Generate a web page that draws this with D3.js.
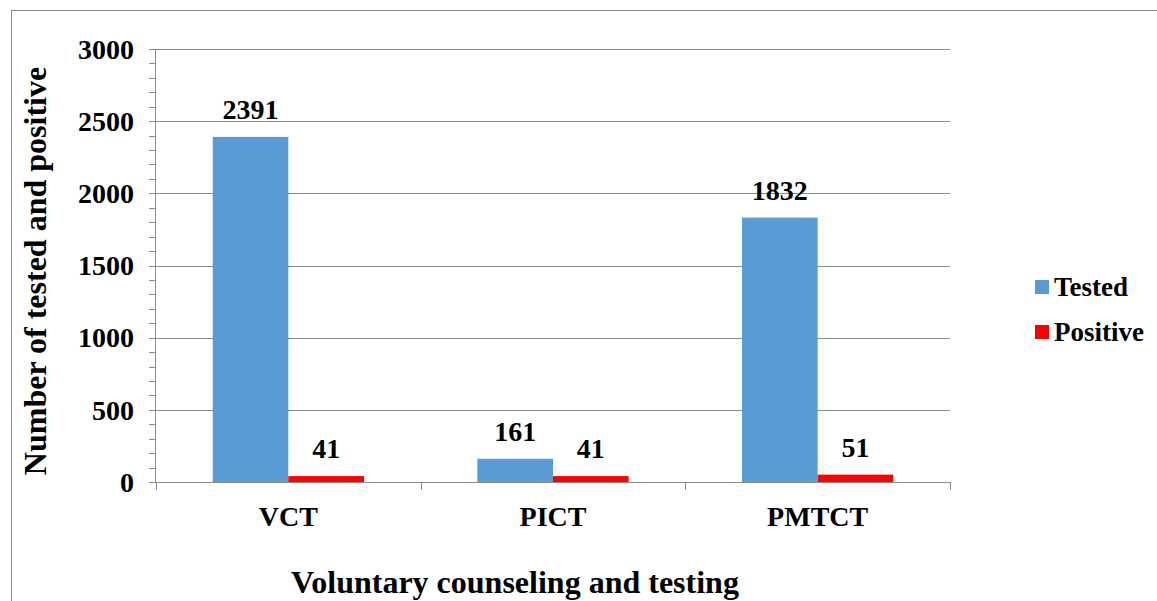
<!DOCTYPE html>
<html>
<head>
<meta charset="utf-8">
<script src="https://cdn.jsdelivr.net/npm/d3@7"></script>
<style>
  body { margin: 0; background: #fff; }
</style>
</head>
<body>
<svg id="drawing_region"></svg>
<script>
const categories = ['VCT', 'PICT', 'PMTCT'];
const series = ['Tested', 'Positive'];
const tested = [2391, 161, 1832];
const positive = [41, 41, 51];
const yticks = [0, 500, 1000, 1500, 2000, 2500, 3000];
const colors = ['#5b9bd5', '#ff0000'];

const width = 1157, height = 601;
const margin = {top: 49, right: 207, bottom: 119, left: 156};
const inner_width = width - margin.left - margin.right;
const inner_height = height - margin.top - margin.bottom;
const serif = '"Liberation Serif", "Times New Roman", Times, serif';

const svg = d3.select('#drawing_region')
    .attr('width', width)
    .attr('height', height)
    .attr('font-family', serif)
    .attr('font-weight', 'bold');

// outer frame
svg.append('rect')
    .attr('x', 11.5).attr('y', 10.5)
    .attr('width', width).attr('height', height)
    .attr('fill', 'none')
    .attr('stroke', '#8c8c8c')
    .attr('stroke-width', 1);

const chart = svg.append('g')
    .attr('transform', `translate(${margin.left}, ${margin.top})`);

const xscale = d3.scaleBand()
    .domain(categories)
    .range([0, inner_width]);

const inner = d3.scaleBand()
    .domain(series)
    .range([0, xscale.bandwidth()])
    .paddingOuter(0.75)
    .paddingInner(0);

const yscale = d3.scaleLinear()
    .domain([0, 3000])
    .range([inner_height, 0]);

// gridlines
chart.append('g')
    .selectAll('line')
    .data(yticks.slice(1))
    .join('line')
    .attr('x1', 0).attr('x2', inner_width)
    .attr('y1', d => Math.round(yscale(d)) + 0.5)
    .attr('y2', d => Math.round(yscale(d)) + 0.5)
    .attr('stroke', '#8c8c8c');

// minor ticks on y
chart.append('g')
    .selectAll('line')
    .data(d3.range(0, 3001, 100))
    .join('line')
    .attr('x1', -7).attr('x2', 0)
    .attr('y1', d => Math.round(yscale(d)) + 0.5)
    .attr('y2', d => Math.round(yscale(d)) + 0.5)
    .attr('stroke', '#8c8c8c');

// y axis line
chart.append('line')
    .attr('x1', -0.5).attr('x2', -0.5)
    .attr('y1', 0).attr('y2', inner_height)
    .attr('stroke', '#8c8c8c');

// y tick labels
chart.append('g')
    .selectAll('text')
    .data(yticks)
    .join('text')
    .attr('x', -22)
    .attr('y', d => yscale(d))
    .attr('dy', '0.35em')
    .attr('text-anchor', 'end')
    .style('font-size', '28px')
    .text(d => d);

// bars
const groups = chart.selectAll('.cat')
    .data(categories)
    .join('g')
    .attr('class', 'cat')
    .attr('transform', d => `translate(${xscale(d)}, 0)`);

const values = [tested, positive];
groups.selectAll('rect')
    .data((d, i) => series.map((s, j) => ({s, j, v: values[j][i]})))
    .join('rect')
    .attr('x', d => inner(d.s))
    .attr('y', d => yscale(d.v))
    .attr('width', inner.bandwidth())
    .attr('height', d => inner_height - yscale(d.v))
    .attr('fill', d => colors[d.j]);

groups.selectAll('text.val')
    .data((d, i) => series.map((s, j) => ({s, j, v: values[j][i]})))
    .join('text')
    .attr('class', 'val')
    .attr('x', d => inner(d.s) + inner.bandwidth() / 2)
    .attr('y', d => yscale(d.v) - 18)
    .attr('text-anchor', 'middle')
    .style('font-size', '28px')
    .text(d => d.v);

// x axis line and category ticks
chart.append('line')
    .attr('x1', 0).attr('x2', inner_width)
    .attr('y1', inner_height + 0.5).attr('y2', inner_height + 0.5)
    .attr('stroke', '#8c8c8c');

chart.append('g')
    .selectAll('line')
    .data([0, 1, 2, 3])
    .join('line')
    .attr('x1', d => Math.round(d * xscale.step()) + 0.5)
    .attr('x2', d => Math.round(d * xscale.step()) + 0.5)
    .attr('y1', inner_height).attr('y2', inner_height + 8)
    .attr('stroke', '#8c8c8c');

chart.append('g')
    .selectAll('text')
    .data(categories)
    .join('text')
    .attr('x', d => xscale(d) + xscale.bandwidth() / 2)
    .attr('y', inner_height + 44)
    .attr('text-anchor', 'middle')
    .style('font-size', '28px')
    .text(d => d);

// axis titles
svg.append('text')
    .attr('x', 515)
    .attr('y', 593)
    .attr('text-anchor', 'middle')
    .style('font-size', '32px')
    .text('Voluntary counseling and testing');

svg.append('text')
    .attr('transform', 'translate(46, 271) rotate(-90)')
    .attr('text-anchor', 'middle')
    .style('font-size', '32px')
    .text('Number of tested and positive');

// legend
const legend = svg.append('g')
    .attr('transform', 'translate(1035, 280)');

legend.selectAll('rect')
    .data(series)
    .join('rect')
    .attr('x', 0)
    .attr('y', (d, i) => i * 45)
    .attr('width', 14).attr('height', 14)
    .attr('fill', (d, i) => colors[i]);

legend.selectAll('text')
    .data(series)
    .join('text')
    .attr('x', 19)
    .attr('y', (d, i) => i * 45 + 7)
    .attr('dy', '0.35em')
    .style('font-size', '27px')
    .text(d => d);
</script>
</body>
</html>
